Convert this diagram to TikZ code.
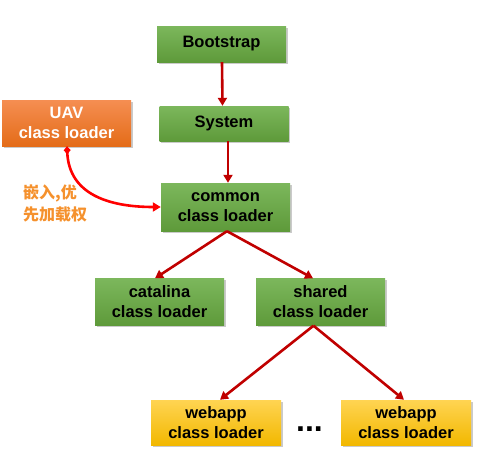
\documentclass[tikz,border=0pt]{standalone}
\usepackage{fontspec}
\setmainfont{Liberation Sans}
\newfontfamily\cjk{Noto Sans CJK SC}
\usetikzlibrary{arrows.meta,shadows}
\definecolor{gtop}{RGB}{124,183,92}
\definecolor{gbot}{RGB}{94,154,58}
\definecolor{otop}{RGB}{245,142,82}
\definecolor{obot}{RGB}{228,108,24}
\definecolor{ytop}{RGB}{255,212,82}
\definecolor{ybot}{RGB}{242,184,0}
\definecolor{darr}{RGB}{192,0,0}
\definecolor{lbl}{RGB}{245,145,45}
\tikzset{
  box/.style={minimum width=129pt, inner sep=0pt, align=center,
    font=\fontsize{16.5}{20}\selectfont\bfseries,
    drop shadow={shadow xshift=1.5pt, shadow yshift=-1.5pt, opacity=0.35, fill=black!60}},
  gbox/.style={box, top color=gtop, bottom color=gbot},
  obox/.style={box, top color=otop, bottom color=obot, text=white},
  ybox/.style={box, top color=ytop, bottom color=ybot},
  arr/.style={draw=darr, line width=2.6pt, -{Triangle[length=8pt,width=9pt]}},
}
\begin{document}
\begin{tikzpicture}[x=1pt,y=-1pt]
\useasboundingbox (0,0) rectangle (477,471);
\node[gbox, minimum height=36pt] (boot) at (221.5,44) {Bootstrap};
\node[gbox, minimum height=35pt] (sys) at (224,123.5) {System};
\node[obox, minimum height=46pt] (uav) at (66.5,123) {UAV\\class loader};
\node[gbox, minimum height=48pt] (common) at (225.5,207) {common\\class loader};
\node[gbox, minimum height=47pt] (cat) at (159.5,302) {catalina\\class loader};
\node[gbox, minimum height=47pt] (shared) at (320.5,302) {shared\\class loader};
\node[ybox, minimum height=45pt, minimum width=130pt] (web1) at (216,422.5) {webapp\\class loader};
\node[ybox, minimum height=45pt, minimum width=130pt] (web2) at (406,422.5) {webapp\\class loader};
\node[anchor=base, inner sep=0pt, font=\fontsize{32}{32}\selectfont\bfseries] (dots) at (309.5,431) {...};
\node[anchor=north west, inner sep=0pt, align=left, text=lbl, font=\cjk\fontsize{16}{22}\selectfont\bfseries] (lab) at (23,185) {嵌入,优\\先加载权};

\draw[arr] ([xshift=0.5pt]boot.south) -- ([xshift=-1.5pt]sys.north);
\draw[arr] ([xshift=4pt]sys.south) -- ([xshift=2.5pt]common.north);
\draw[arr] ([xshift=1.5pt]common.south) -- ([xshift=-4.5pt]cat.north);
\draw[arr] ([xshift=1.5pt]common.south) -- ([xshift=-7.5pt]shared.north);
\draw[arr] ([xshift=-7pt]shared.south) -- ([xshift=4pt]web1.north);
\draw[arr] ([xshift=-7pt]shared.south) -- ([xshift=-2pt]web2.north);
\draw[red, line width=2.6pt, {Diamond[length=8pt,width=7pt]}-{Triangle[length=8pt,width=9pt]}]
  ([xshift=0.5pt]uav.south) .. controls (69,195) and (110,207) .. (common.west);
\end{tikzpicture}
\end{document}
